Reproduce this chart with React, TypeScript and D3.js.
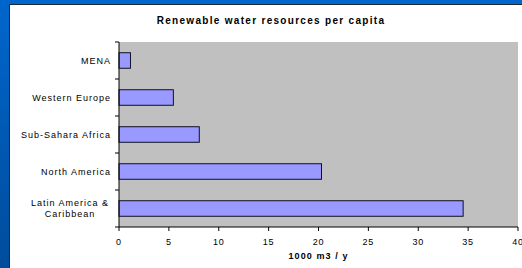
import React from "react";
import * as d3 from "d3";

const categories = ["MENA", "Western Europe", "Sub-Sahara Africa", "North America", "Latin America & Caribbean"];
const values = [1.15, 5.45, 8.05, 20.3, 34.5];
const xTicks = [0, 5, 10, 15, 20, 25, 30, 35, 40];
const title = "Renewable water resources per capita";
const xTitle = "1000 m3 / y";

const W = 522;
const H = 268;
const plot = { left: 119, right: 518, top: 42, bottom: 227 };

export default function App() {
  const x = d3.scaleLinear().domain([0, 40]).range([plot.left, plot.right]);
  const y = d3
    .scaleBand<string>()
    .domain(categories)
    .range([plot.top, plot.bottom])
    .paddingInner(0.58)
    .paddingOuter(0.29);
  const step = y.step();
  const font = "'Liberation Sans', Arial, sans-serif";
  return (
    <svg
      width={W}
      height={H}
      style={{ position: "absolute", left: 0, top: 0 }}
      fontFamily={font}
    >
      <defs>
        <linearGradient id="bg" x1="0" y1="0" x2="0" y2="1">
          <stop offset="0" stopColor="#0066cc" />
          <stop offset="1" stopColor="#004c9c" />
        </linearGradient>
      </defs>
      <rect x={0} y={0} width={W} height={H} fill="url(#bg)" />
      <rect x={9} y={4} width={W} height={H} fill="#1a2a3a" />
      <rect x={10} y={5} width={W} height={H} fill="#ffffff" />
      <text
        x={271}
        y={24}
        textAnchor="middle"
        fontSize={10}
        fontWeight="bold"
        letterSpacing={1.3}
        fill="#000"
      >
        {title}
      </text>
      <rect
        x={plot.left}
        y={plot.top}
        width={plot.right - plot.left}
        height={plot.bottom - plot.top}
        fill="#c0c0c0"
      />
      {categories.map((c, i) => (
        <rect
          key={c}
          x={x(0)}
          y={y(c)!}
          width={x(values[i]) - x(0)}
          height={y.bandwidth()}
          fill="#9999ff"
          stroke="#111122"
          strokeWidth={1}
        />
      ))}
      <line x1={plot.left} x2={plot.left} y1={plot.top} y2={plot.bottom} stroke="#000" />
      <line x1={plot.left} x2={plot.right} y1={plot.bottom} y2={plot.bottom} stroke="#000" />
      {d3.range(categories.length + 1).map((i) => (
        <line
          key={"yt" + i}
          x1={plot.left - 4}
          x2={plot.left}
          y1={plot.top + i * step}
          y2={plot.top + i * step}
          stroke="#000"
        />
      ))}
      {categories.map((c) => {
        const cy = y(c)! + y.bandwidth() / 2;
        const multi = c === "Latin America & Caribbean";
        if (multi) {
          const lines = ["Latin America &", "Caribbean"];
          return (
            <text key={"yl" + c} textAnchor="middle" fontSize={9} letterSpacing={1.0} fill="#000">
              {lines.map((l, j) => (
                <tspan key={j} x={70} y={cy - 2.5 + j * 11}>
                  {l}
                </tspan>
              ))}
            </text>
          );
        }
        return (
          <text
            key={"yl" + c}
            x={plot.left - 8}
            y={cy + 3}
            textAnchor="end"
            fontSize={9}
            letterSpacing={1.0}
            fill="#000"
          >
            {c}
          </text>
        );
      })}
      {xTicks.map((t) => (
        <g key={"xt" + t}>
          <line x1={x(t)} x2={x(t)} y1={plot.bottom} y2={plot.bottom + 4} stroke="#000" />
          <text x={x(t)} y={244.5} textAnchor="middle" fontSize={9} letterSpacing={0.8} fill="#000">
            {t}
          </text>
        </g>
      ))}
      <text
        x={(plot.left + plot.right) / 2}
        y={259}
        textAnchor="middle"
        fontSize={9}
        fontWeight="bold"
        letterSpacing={1.1}
        fill="#000"
      >
        {xTitle}
      </text>
    </svg>
  );
}
